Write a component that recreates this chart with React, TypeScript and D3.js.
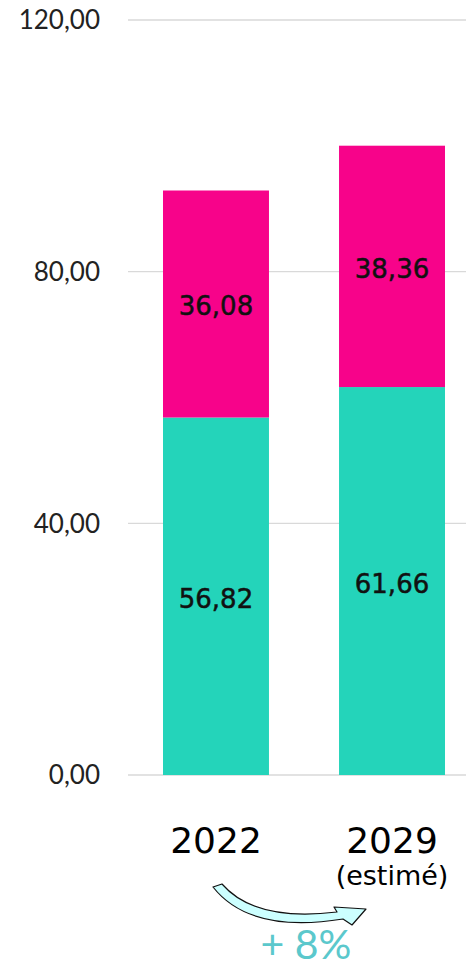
import React from "react";
import * as d3 from "d3";

const categories = ["2022", "2029"];
const subLabels = ["", "(estimé)"];
const teal = [56.82, 61.66];
const pink = [36.08, 38.36];
const yTicks = [0, 40, 80, 120];
const growthLabel = "+ 8%";

const W = 466;
const H = 968;
const AXFONT = "Lato, 'Noto Sans', sans-serif";
const FONT = "'DejaVu Sans', sans-serif";

export default function App() {
  const y = d3.scaleLinear().domain([0, 120]).range([775, 20]);
  const x = d3.scaleBand().domain(categories).range([163, 445]).paddingInner(0.398).paddingOuter(0);
  const fmt = (v: number) => v.toFixed(2).replace(".", ",");
  const stacks = categories.map((c, i) => ({ c, t: teal[i], p: pink[i] }));
  return (
    <svg width={W} height={H} style={{ position: "absolute", left: 0, top: 0 }}>
      <rect width={W} height={H} fill="#fff" />
      {yTicks.map((t) => (
        <g key={t}>
          <line x1={128} x2={466} y1={y(t)} y2={y(t)} stroke="#d9d9d9" strokeWidth={1.3} />
          <text x={100} y={y(t)} dy="0.36em" textAnchor="end" fontFamily={AXFONT} fontSize={26} fill="#222">
            {fmt(t)}
          </text>
        </g>
      ))}
      {stacks.map((s) => {
        const x0 = x(s.c)!;
        const bw = x.bandwidth();
        return (
          <g key={s.c}>
            <rect x={x0} y={y(s.t)} width={bw} height={y(0) - y(s.t)} fill="#24D4BA" />
            <rect x={x0} y={y(s.t + s.p)} width={bw} height={y(s.t) - y(s.t + s.p)} fill="#F7038A" />
            <text x={x0 + bw / 2} y={(y(0) + y(s.t)) / 2 + 2} dy="0.365em" textAnchor="middle" fontFamily={FONT} fontSize={26} fill="#111" stroke="#111" strokeWidth={0.5}>
              {fmt(s.t)}
            </text>
            <text x={x0 + bw / 2} y={(y(s.t) + y(s.t + s.p)) / 2 + 2} dy="0.365em" textAnchor="middle" fontFamily={FONT} fontSize={26} fill="#111" stroke="#111" strokeWidth={0.5}>
              {fmt(s.p)}
            </text>
          </g>
        );
      })}
      {categories.map((c, i) => (
        <g key={c}>
          <text x={x(c)! + x.bandwidth() / 2} y={853} textAnchor="middle" fontFamily={FONT} fontSize={36} fill="#000">
            {c}
          </text>
          {subLabels[i] && (
            <text x={x(c)! + x.bandwidth() / 2} y={885} textAnchor="middle" fontFamily={FONT} fontSize={27} fill="#000">
              {subLabels[i]}
            </text>
          )}
        </g>
      ))}
      <path
        d="M222,884 Q255,922 337,912 L334,907 L366,909 L352,925 L343,919 Q250,934 213,887 Z"
        fill="#CCFFFF"
        stroke="#111"
        strokeWidth={1.2}
        strokeLinejoin="round"
      />
      <text x={306} y={959} textAnchor="middle" fontFamily={AXFONT} fontSize={41} fill="#5BC8CC">
        {growthLabel}
      </text>
    </svg>
  );
}
